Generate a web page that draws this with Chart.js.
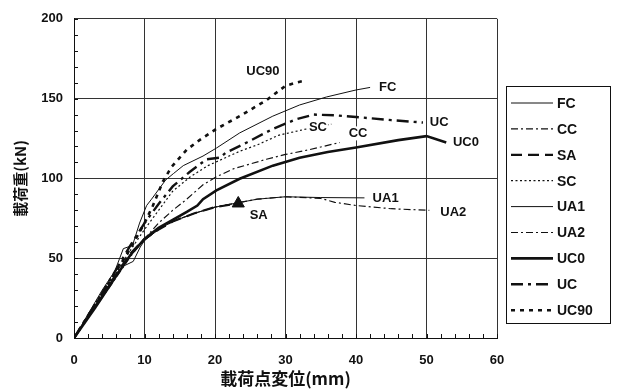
<!DOCTYPE html>
<html>
<head>
<meta charset="utf-8">
<script src="https://cdn.jsdelivr.net/npm/chart.js@4.4.0/dist/chart.umd.min.js"></script>
<style>
  html, body { margin: 0; padding: 0; background: #fff; }
  #wrap { width: 618px; height: 392px; }
</style>
</head>
<body>
<div id="wrap"><canvas id="chart"></canvas></div>
<script>
(() => {
  'use strict'
  // Données : [déplacement (mm), charge (kN)]
  const seriesNames = ['FC', 'CC', 'SA', 'SC', 'UA1', 'UA2', 'UC0', 'UC', 'UC90'];

  const FC = [[0,0],[2,15],[4,30],[5.8,42],[7,56],[8.3,58],[9.3,72],[10.3,83],[11,87],[13,99],[14.1,103],[15.5,108],[18.3,114],[20.2,119],[23.5,128.5],[28.2,139],[32,146],[35.8,151],[40,155.4],[42,157]];
  const CC = [[0,0],[3,19],[6,38],[8,51],[10,62],[12,72],[14,80],[16,87],[18.3,96],[20.2,101],[22.6,106],[27.3,112],[30,115],[33.4,118],[37.7,122.5]];
  const SA = [[0,0],[3,20],[6,40],[8,53],[10,62],[12,68],[14,73],[17,78],[20,82],[23.3,84.3]];
  const SC = [[0,0],[3,20],[6,41],[8,55],[10,68],[12,80],[14,92],[16.5,101],[19,108],[21,112],[23.5,117],[26,121],[29,127],[33,131],[36.5,134]];
  const UA1 = [[0,0],[3,20],[6,40],[7,45],[8.4,48],[9.4,57],[10,61],[12,68],[14,73],[17,78],[20,82],[23,84.5],[26,87],[30,88.5],[35,88],[41.2,87.8]];
  const UA2 = [[0,0],[3,20],[6,40],[8,52],[10,62],[12,68],[14,73],[17,78],[20,82],[23,84.5],[26,87],[30,88.5],[35,87.5],[37,85],[40,83],[45,81],[50.4,80]];
  const UC0 = [[0,0],[3,19],[6,39],[8,52],[10,62],[12,69],[14,74],[16,79],[17.5,83],[18.3,87],[20.2,92.5],[23.5,99.8],[28.2,108],[32,113],[36,116.5],[40,119.4],[46,124],[50,126.5],[52.8,122.5]];
  const UC = [[0,0],[3,21],[6,43],[8,58],[10,72],[12,84],[14,95],[16.4,104],[18.8,112],[20.7,113],[21.5,116],[24.5,122.5],[28.2,131],[31.5,137],[34,140],[37,139.5],[40,138.5],[45,136.5],[49.5,135]];
  const UC90 = [[0,0],[3,21],[6,42],[8,56],[10,72],[11.2,83],[12.6,98],[13.8,107],[16,118],[17.8,124],[20.2,131],[23.5,139],[27.3,149],[30,158],[31.5,160],[32.5,161]];

  const seriesData = [FC, CC, SA, SC, UA1, UA2, UC0, UC, UC90];

  // Etiquettes posées sur les courbes (texte, x mm, y kN)
  const curveLabels = [
    ['UC90', 26.8, 167], ['FC', 44.5, 157], ['UC', 51.8, 134.8], ['UC0', 55.6, 122.5],
    ['SC', 34.6, 131.7], ['CC', 40.3, 128.2], ['UA1', 44.2, 87.4], ['UA2', 53.8, 78.5], ['SA', 26.2, 77]
  ];

  const xTicks = { min: 0, max: 60, step: 2, labelEvery: 10 };
  const yTicks = { min: 0, max: 200, step: 10, labelEvery: 50 };

  // Styles de trait
  const styles = {
    FC:   { width: 1,   dash: [] },
    CC:   { width: 1.2, dash: [7, 3, 2, 3] },
    SA:   { width: 2.2, dash: [11, 6] },
    SC:   { width: 1.2, dash: [2, 2.5] },
    UA1:  { width: 1,   dash: [] },
    UA2:  { width: 1.2, dash: [7, 3, 2, 3] },
    UC0:  { width: 2.6, dash: [] },
    UC:   { width: 2.4, dash: [12, 5, 3, 5] },
    UC90: { width: 2.6, dash: [4, 5] }
  };

  const ink = '#111';
  const numFont = { family: "'Liberation Sans', Arial, sans-serif", weight: 'bold', size: 13 };

  const datasets = seriesNames.map((name, i) => {
    const pts = seriesData[i];
    return {
      label: name,
      data: pts.map(p => ({ x: p[0], y: p[1] })),
      showLine: true,
      borderColor: ink,
      backgroundColor: ink,
      borderWidth: styles[name].width,
      borderDash: styles[name].dash,
      tension: 0,
      pointStyle: name === 'SA' ? 'triangle' : 'circle',
      pointRadius: ctx => (name === 'SA' && ctx.dataIndex === pts.length - 1) ? 7 : 0,
      pointBorderWidth: 1
    };
  });

  // petites graduations intérieures + étiquettes + légende encadrée
  const decorations = {
    id: 'decorations',
    afterDatasetsDraw(chart) {
      const { ctx, chartArea: a, scales: { x, y } } = chart;
      ctx.save();
      ctx.strokeStyle = ink;
      ctx.lineWidth = 1;
      ctx.setLineDash([]);
      ctx.beginPath();
      x.ticks.forEach(t => {
        const px = Math.round(x.getPixelForValue(t.value)) + 0.5;
        ctx.moveTo(px, a.bottom); ctx.lineTo(px, a.bottom - 4);
      });
      y.ticks.forEach(t => {
        const py = Math.round(y.getPixelForValue(t.value)) + 0.5;
        ctx.moveTo(a.left, py); ctx.lineTo(a.left + 4, py);
      });
      ctx.stroke();

      ctx.fillStyle = ink;
      ctx.font = `bold 13px ${numFont.family}`;
      ctx.textAlign = 'center';
      ctx.textBaseline = 'middle';
      curveLabels.forEach(([txt, vx, vy]) => {
        ctx.fillStyle = '#fff';
        const w = ctx.measureText(txt).width;
        const px = x.getPixelForValue(vx), py = y.getPixelForValue(vy);
        ctx.fillRect(px - w / 2 - 1, py - 7, w + 2, 14);
        ctx.fillStyle = ink;
        ctx.fillText(txt, px, py);
      });

      // légende
      const box = { left: 506.5, top: 86.5, width: 104, height: 237 };
      ctx.fillStyle = '#fff';
      ctx.fillRect(box.left, box.top, box.width, box.height);
      ctx.strokeStyle = ink;
      ctx.lineWidth = 1;
      ctx.strokeRect(box.left, box.top, box.width, box.height);
      ctx.font = `bold 14px ${numFont.family}`;
      ctx.textAlign = 'left';
      chart.data.datasets.forEach((ds, i) => {
        const cy = 103 + i * 25.9;
        ctx.beginPath();
        ctx.lineWidth = ds.borderWidth;
        ctx.setLineDash(ds.borderDash);
        ctx.moveTo(511, cy); ctx.lineTo(553, cy);
        ctx.stroke();
        ctx.setLineDash([]);
        ctx.fillStyle = ink;
        ctx.fillText(ds.label, 557, cy + 1);
      });
      ctx.restore();
    }
  };

  new Chart(document.getElementById('chart'), {
    type: 'scatter',
    data: { datasets },
    options: {
      responsive: true,
      maintainAspectRatio: false,
      animation: false,
      layout: { padding: { top: 14, right: 121, left: 0, bottom: 0 } },
      plugins: { legend: { display: false }, tooltip: { enabled: false } },
      scales: {
        x: {
          type: 'linear', min: xTicks.min, max: xTicks.max,
          afterFit: s => { s.height = 54; },
          ticks: {
            stepSize: xTicks.step, autoSkip: false, maxRotation: 0, padding: 15,
            color: ink, font: numFont,
            callback: v => (v % xTicks.labelEvery === 0 ? v : '')
          },
          grid: {
            drawTicks: false,
            color: c => (c.tick && c.tick.value % xTicks.labelEvery === 0 ? '#333' : 'rgba(0,0,0,0)'),
            lineWidth: 1
          },
          border: { display: true, color: ink, width: 1 },
          title: {
            display: true, text: '載荷点変位(mm)', color: ink,
            font: { family: "'Noto Sans CJK JP', 'Liberation Sans', sans-serif", weight: 'bold', size: 17 },
            padding: { top: 0, bottom: 3 }
          }
        },
        y: {
          type: 'linear', min: yTicks.min, max: yTicks.max,
          afterFit: s => { s.width = 74; },
          ticks: {
            stepSize: yTicks.step, autoSkip: false, padding: 11,
            color: ink, font: numFont,
            callback: v => (v % yTicks.labelEvery === 0 ? v : '')
          },
          grid: {
            drawTicks: false,
            color: c => (c.tick && c.tick.value % yTicks.labelEvery === 0 ? '#333' : 'rgba(0,0,0,0)'),
            lineWidth: 1
          },
          border: { display: true, color: ink, width: 1 },
          title: {
            display: true, text: '載荷重(kN)', color: ink,
            font: { family: "'Noto Sans CJK JP', 'Liberation Sans', sans-serif", weight: 'bold', size: 15 },
            padding: { top: 11, bottom: 0 }
          }
        }
      }
    },
    plugins: [decorations]
  });
})();
</script>
</body>
</html>
